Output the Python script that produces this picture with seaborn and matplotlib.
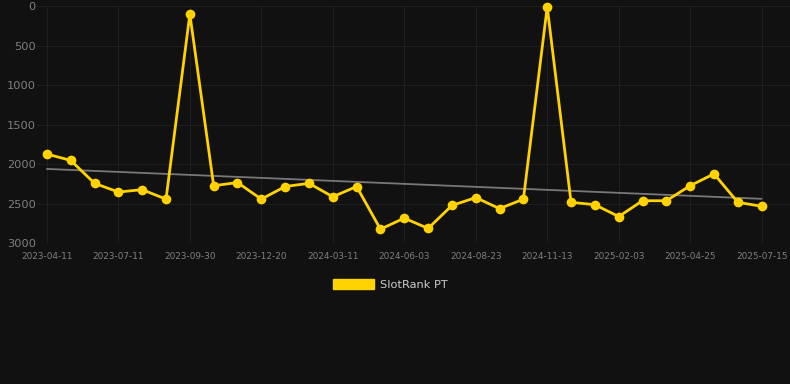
import matplotlib
matplotlib.use("Agg")
import matplotlib.pyplot as plt
import seaborn as sns
import numpy as np
import pandas as pd

# rank values, one every ~27 days (category axis)
ranks = [1870, 1950, 2240, 2350, 2320, 2440, 100, 2270, 2230, 2440,
         2280, 2240, 2410, 2280, 2820, 2680, 2810, 2520, 2420, 2560,
         2440, 10, 2480, 2510, 2660, 2460, 2460, 2270, 2120, 2480, 2530]
tick_labels = ['2023-04-11', '2023-07-11', '2023-09-30', '2023-12-20',
               '2024-03-11', '2024-06-03', '2024-08-23', '2024-11-13',
               '2025-02-03', '2025-04-25', '2025-07-15']

df = pd.DataFrame({'idx': np.arange(len(ranks)), 'rank': ranks})

bg = '#111111'
sns.set_style('dark', {'axes.facecolor': bg, 'figure.facecolor': bg})
plt.rcParams['font.family'] = ['DejaVu Sans']

fig = plt.figure(figsize=(7.9, 3.84), dpi=100)
ax = fig.add_axes([0.047, 0.366, 0.953, 0.618])

sns.regplot(data=df, x='idx', y='rank', scatter=False, ci=None, ax=ax,
            line_kws={'color': '#787878', 'lw': 1.3, 'zorder': 2})
sns.lineplot(data=df, x='idx', y='rank', ax=ax, color='#FFD200', lw=2,
             marker='o', markersize=7, markeredgewidth=0, zorder=3,
             clip_on=False, legend=False)

ax.set_ylim(3000, 0)
ax.set_xlim(-0.41, 31.19)
ax.set_yticks([0, 500, 1000, 1500, 2000, 2500, 3000])
ax.set_xticks(np.arange(0, len(ranks), 3))
ax.set_xticklabels(tick_labels)
ax.grid(True, color='#1f1f1f', lw=0.8)
ax.set_axisbelow(True)
for s in ax.spines.values():
    s.set_visible(False)
ax.tick_params(axis='y', colors='#7f7f7f', labelsize=8.2, length=0, pad=1)
ax.tick_params(axis='x', colors='#7f7f7f', labelsize=6.4, length=0, pad=6)
ax.set_xlabel('')
ax.set_ylabel('')

handle = plt.Rectangle((0, 0), 1, 1, color='#FFD200')
fig.legend([handle], ['SlotRank PT'], loc='center', bbox_to_anchor=(0.494, 0.26),
           frameon=False, labelcolor='#cccccc', fontsize=8.2,
           handlelength=3.6, handleheight=1.0, handletextpad=0.5)

fig.savefig('out.png', dpi=100, facecolor=bg)
